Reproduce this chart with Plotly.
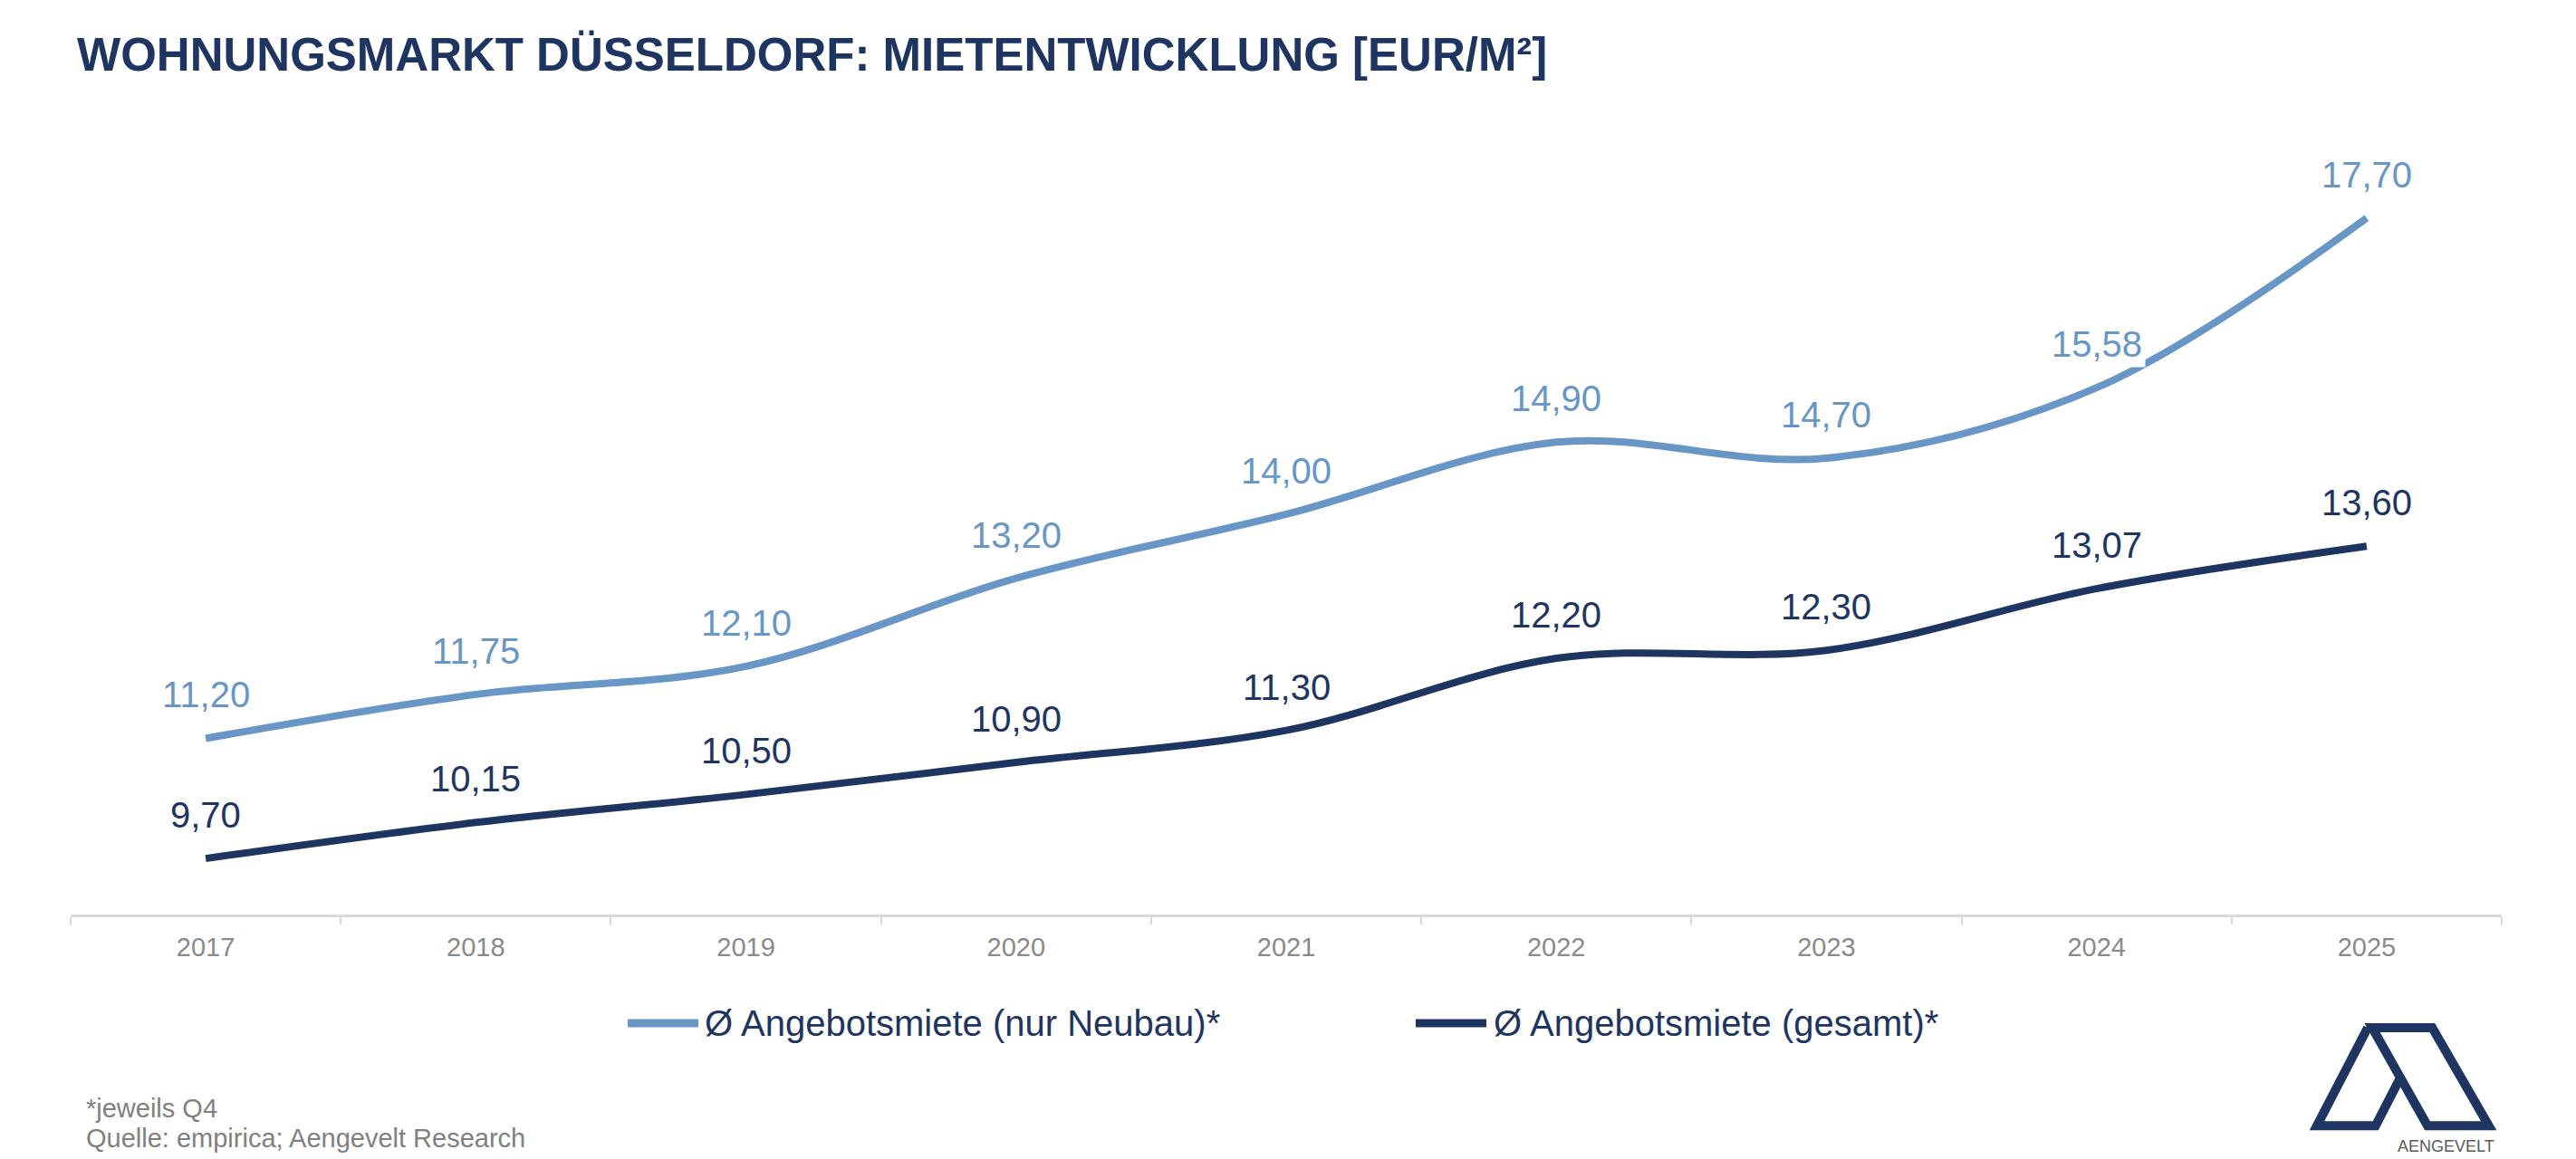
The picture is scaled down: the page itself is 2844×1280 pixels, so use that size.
import plotly.graph_objects as go

# ---------------- data ----------------
years = ["2017", "2018", "2019", "2020", "2021", "2022", "2023", "2024", "2025"]
neubau = [11.20, 11.75, 12.10, 13.20, 14.00, 14.90, 14.70, 15.58, 17.70]
gesamt = [9.70, 10.15, 10.50, 10.90, 11.30, 12.20, 12.30, 13.07, 13.60]
series_names = ["Ø Angebotsmiete (nur Neubau)*", "Ø Angebotsmiete (gesamt)*"]
title_text = "WOHNUNGSMARKT DÜSSELDORF: MIETENTWICKLUNG [EUR/M²]"
footnotes = ["*jeweils Q4", "Quelle: empirica; Aengevelt Research"]
logo_text = "AENGEVELT"

# ---------------- style ----------------
LIGHT = "#6896C6"
NAVY = "#1F3561"
AXIS = "#D9D9D9"
TICK_TXT = "#8A8A8A"
FOOT = "#808080"
FONT = "Liberation Sans, Arial, sans-serif"

W, H = 2844, 1280
L, R, T, B = 78, 82, 170, 270
PW, PH = W - L - R, H - T - B


def px(x):
    return (x - L) / PW


def py(y):
    return (H - B - y) / PH


def fmt(v):
    return f"{v:.2f}".replace(".", ",")


fig = go.Figure()
series = [(neubau, LIGHT, series_names[0]), (gesamt, NAVY, series_names[1])]
for vals, col, name in series:
    fig.add_trace(go.Scatter(
        x=years, y=vals, mode="lines", name=name,
        line=dict(color=col, width=8, shape="spline", smoothing=1.0),
        showlegend=False, hoverinfo="skip",
    ))

annotations = []
for vals, col, name in series:
    for i, v in enumerate(vals):
        annotations.append(dict(
            x=i, y=v, xref="x", yref="y", text=fmt(v), showarrow=False,
            yshift=48, font=dict(family=FONT, size=40, color=col),
            bgcolor="white", borderpad=3,
        ))

shapes = []
# manual legend
legend_pos = [(693, 771, 776), (1563, 1641, 1647)]
for (vals, col, name), (x0, x1, tx) in zip(series, legend_pos):
    shapes.append(dict(type="line", xref="paper", yref="paper",
                       x0=px(x0), x1=px(x1), y0=py(1130), y1=py(1130),
                       line=dict(color=col, width=9)))
    annotations.append(dict(x=px(tx), y=py(1130), xref="paper", yref="paper",
                            text=name, showarrow=False, xanchor="left",
                            yanchor="middle",
                            font=dict(family=FONT, size=40, color=NAVY)))

# footnotes
for txt, yy in zip(footnotes, [1224, 1257]):
    annotations.append(dict(x=px(93), y=py(yy), xref="paper", yref="paper",
                            text=txt, showarrow=False, xanchor="left",
                            yanchor="middle",
                            font=dict(family=FONT, size=29, color=FOOT)))

# logo
def path(points, close=False):
    s = "M " + " L ".join(f"{px(x):.5f},{py(y):.5f}" for x, y in points)
    return s + (" Z" if close else "")

logo_left = [(2614.0, 1135.0), (2558.0, 1243.3), (2622.7, 1243.3), (2650.3, 1189.7)]
logo_right = [(2619.0, 1135.0), (2685.3, 1135.0), (2747.7, 1243.3), (2680.0, 1243.3)]
shapes.append(dict(type="path", xref="paper", yref="paper", path=path(logo_left),
                   line=dict(color=NAVY, width=10)))
shapes.append(dict(type="path", xref="paper", yref="paper", path=path(logo_right, True),
                   line=dict(color=NAVY, width=10)))
annotations.append(dict(x=px(2756), y=py(1266), xref="paper", yref="paper",
                        text=logo_text, showarrow=False, xanchor="right",
                        yanchor="middle",
                        font=dict(family=FONT, size=18, color="#595959")))

fig.update_layout(
    width=W, height=H,
    margin=dict(l=L, r=R, t=T, b=B),
    paper_bgcolor="white", plot_bgcolor="white",
    separators=",.",
    title=dict(text=title_text, x=85 / W, xref="container", xanchor="left",
               y=1 - 60 / H, yref="container", yanchor="middle",
               font=dict(family=FONT, size=51, color=NAVY, weight="bold")),
    xaxis=dict(type="category", range=[-0.5, 8.5], tickson="boundaries",
               ticks="outside", ticklen=8, tickwidth=2, tickcolor=AXIS,
               showline=True, linecolor=AXIS, linewidth=3, showgrid=False,
               zeroline=False, ticklabelstandoff=8,
               tickfont=dict(family=FONT, size=29, color=TICK_TXT)),
    yaxis=dict(visible=False, range=[9, 18.5], showgrid=False, zeroline=False),
    annotations=annotations,
    shapes=shapes,
    showlegend=False,
)

fig.write_html("out.html")
